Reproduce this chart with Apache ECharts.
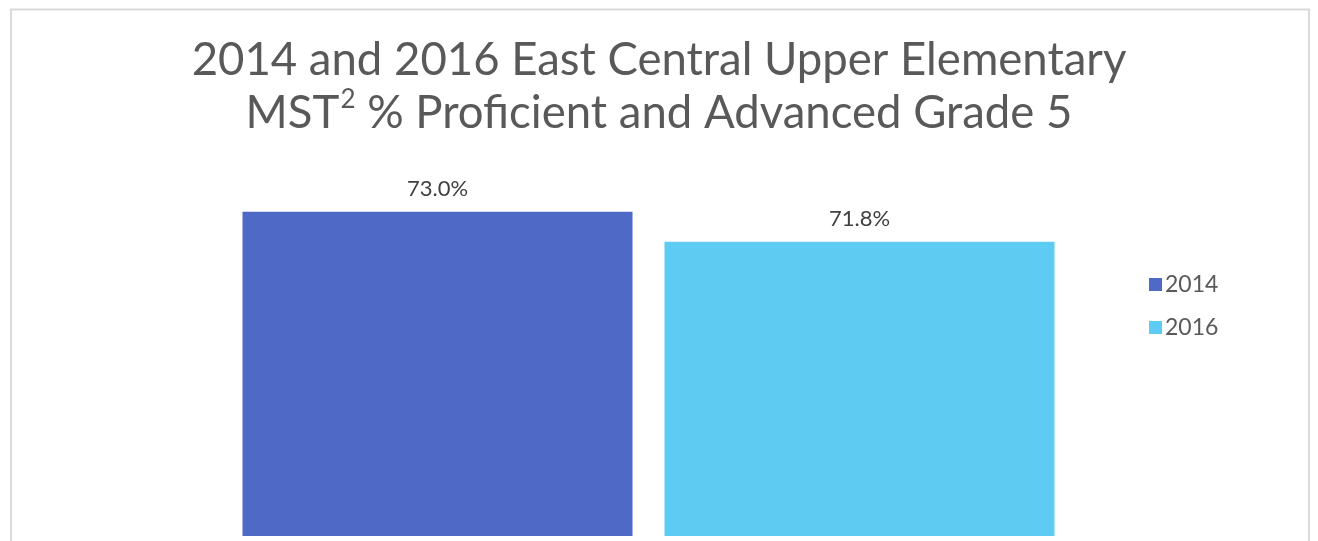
<!DOCTYPE html>
<html><head><meta charset="utf-8">
<script src="https://cdn.jsdelivr.net/npm/echarts@6/dist/echarts.min.js"></script>
<style>html,body{margin:0;padding:0;background:#fff}#c{width:1318px;height:541px}</style>
</head><body><div id="c"></div>
<script>
const categories = ['Grade 5'];
const seriesNames = ['2014', '2016'];
const values2014 = [73.0];
const values2016 = [71.8];
const colors = ['#4f69c6', '#5dcbf2'];

const chart = echarts.init(document.getElementById('c'));
const font = 'Lato, "Open Sans", sans-serif';
chart.setOption({
  animation: false,
  graphic: [{type:'rect', shape:{x:11, y:9.5, width:1298, height:700}, style:{fill:'none', stroke:'#d9d9d9', lineWidth:2}, z:-1}],
  title: {
    text: '2014 and 2016 East Central Upper Elementary\nMST{sup|2} % Proficient and Advanced Grade 5',
    left: 'center', top: 29,
    textStyle: {
      fontFamily: font, fontSize: 45.5, fontWeight: 'normal', color: '#595959', lineHeight: 53,
      rich: { sup: { fontFamily: font, fontSize: 26, color: '#595959', verticalAlign: 'top', padding: [0,0,18,1], lineHeight: 53 } }
    }
  },
  legend: {
    orient: 'vertical', left: 1144, top: 268, itemGap: 20, itemWidth: 13, itemHeight: 13,
    icon: 'rect',
    textStyle: { fontFamily: font, fontSize: 23, color: '#595959', padding: [0,0,0,-2] },
    data: seriesNames
  },
  grid: { left: 143, right: 164, top: 162, bottom: 5 },
  xAxis: { type: 'category', data: categories, show: false },
  yAxis: { type: 'value', min: 60, max: 75, show: false, splitLine: { show: false } },
  series: [
    { name: seriesNames[0], type: 'bar', data: values2014, barWidth: 390, barGap: '8.2%',
      itemStyle: { color: colors[0] },
      label: { show: true, position: 'top', distance: 12, formatter: p => p.value.toFixed(1) + '%', fontFamily: font, fontSize: 22, color: '#404040' } },
    { name: seriesNames[1], type: 'bar', data: values2016, barWidth: 390,
      itemStyle: { color: colors[1] },
      label: { show: true, position: 'top', distance: 12, formatter: p => p.value.toFixed(1) + '%', fontFamily: font, fontSize: 22, color: '#404040' } }
  ]
});
</script></body></html>
